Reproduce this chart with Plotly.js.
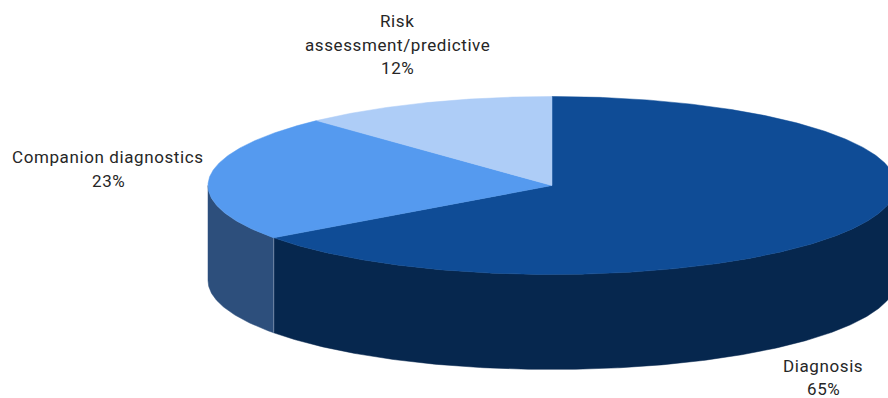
<!DOCTYPE html>
<html>
<head>
<meta charset="utf-8">
<script src="https://cdn.plot.ly/plotly-3.0.1.min.js"></script>
<style>
html,body{margin:0;padding:0;background:#fff}
#chart{width:888px;height:398px}
.annotation-text{letter-spacing:.6px}
</style>
</head>
<body>
<div id="chart"></div>
<script>
// Share of each application area, clockwise from twelve o'clock.
const categories = ['Diagnosis', 'Companion diagnostics', 'Risk assessment/predictive'];
const labelLines = [['Diagnosis'], ['Companion diagnostics'], ['Risk', 'assessment/predictive']];
const shares = [65, 23, 12];
const topColours = ['#0f4c96', '#559aef', '#aecdf7'];
const wallColours = ['#06274e', '#2d4f7c', '#6f8fb8'];
const labelAnchors = [[823, 365.5], [108, 157], [397, 21]];

// The disc is an ellipse seen at a tilt; its wall drops straight down.
const cx = 552, cy = 185.5, rx = 344, ry = 89, depth = 95;
const lineGap = 23.5;
const total = shares.reduce((a, b) => a + b, 0);

const px = a => cx + rx * Math.sin(a);
const py = a => cy - ry * Math.cos(a);
const rad = d => d * Math.PI / 180;

function arc(from, to) {
  const n = Math.max(2, Math.ceil(Math.abs(to - from) * 2));
  const out = [];
  for (let i = 0; i <= n; i++) out.push(rad(from + (to - from) * i / n));
  return out;
}

const tops = [], walls = [], seams = [];
let start = 0;
shares.forEach((v, i) => {
  const end = start + v / total * 360;
  const rim = arc(start, end);
  tops.push({
    x: [cx, ...rim.map(px), cx],
    y: [cy, ...rim.map(py), cy],
    name: categories[i],
    type: 'scatter', mode: 'lines', fill: 'toself',
    fillcolor: topColours[i],
    line: {color: topColours[i], width: 0.5},
    hoverinfo: 'name'
  });
  // Only the front half of the rim (90 to 270 degrees) shows a wall.
  const a = Math.max(start, 90), b = Math.min(end, 270);
  if (b > a) {
    const front = arc(a, b);
    walls.push({
      x: [...front.map(px), ...front.slice().reverse().map(px)],
      y: [...front.map(py), ...front.slice().reverse().map(t => py(t) + depth)],
      name: categories[i],
      type: 'scatter', mode: 'lines', fill: 'toself',
      fillcolor: wallColours[i],
      line: {color: wallColours[i], width: 0.5},
      hoverinfo: 'name'
    });
    if (b < 270) {
      seams.push({
        x: [px(rad(b)), px(rad(b))],
        y: [py(rad(b)), py(rad(b)) + depth],
        type: 'scatter', mode: 'lines',
        line: {color: '#6f87a6', width: 1},
        hoverinfo: 'skip'
      });
    }
  }
  start = end;
});

const annotations = [];
shares.forEach((v, i) => {
  const lines = [...labelLines[i], v + '%'];
  lines.forEach((t, k) => annotations.push({
    x: labelAnchors[i][0],
    y: labelAnchors[i][1] + k * lineGap,
    text: t, showarrow: false,
    xanchor: 'center', yanchor: 'middle',
    font: {family: 'Roboto, sans-serif', size: 17, color: '#262626'}
  }));
});

Plotly.newPlot('chart', [...walls, ...seams, ...tops], {
  width: 888, height: 398,
  margin: {l: 0, r: 0, t: 0, b: 0},
  showlegend: false,
  paper_bgcolor: '#fff', plot_bgcolor: '#fff',
  xaxis: {range: [0, 888], visible: false, fixedrange: true},
  yaxis: {range: [398, 0], visible: false, fixedrange: true},
  annotations
}, {displayModeBar: false, staticPlot: true});
</script>
</body>
</html>
